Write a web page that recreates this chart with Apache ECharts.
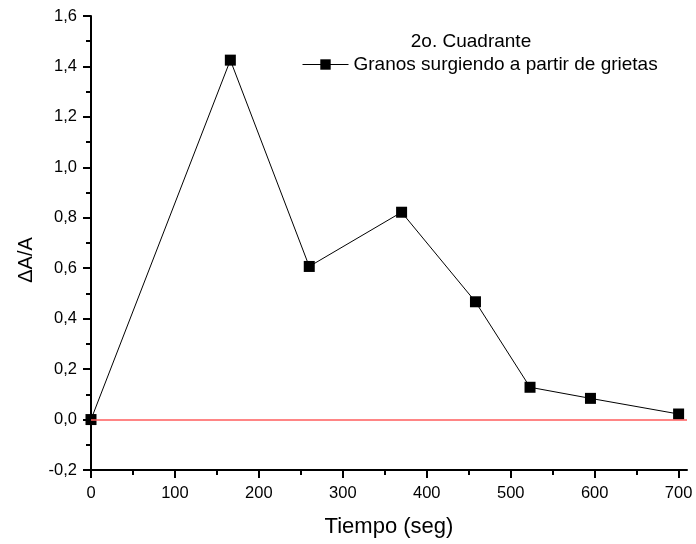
<!DOCTYPE html>
<html>
<head>
<meta charset="utf-8">
<script src="https://cdn.jsdelivr.net/npm/echarts@6/dist/echarts.min.js"></script>
<style>
  html, body { margin: 0; padding: 0; background: #fff; }
  #chart { width: 696px; height: 544px; }
</style>
</head>
<body>
<div id="chart"></div>
<script>
// Time (s) and relative area change for grains emerging from cracks
const tiempo = [0, 166, 260, 370, 458, 523, 595, 700];
const deltaA = [0, 1.425, 0.607, 0.822, 0.467, 0.128, 0.084, 0.022];
const xMajorTicks = [0, 100, 200, 300, 400, 500, 600, 700];
const xMinorTicks = [50, 150, 250, 350, 450, 550, 650];
const baselineY = 0;
const seriesName = 'Granos surgiendo a partir de grietas';
const titleText = '2o. Cuadrante';

const FONT = '"Liberation Sans", Arial, sans-serif';
const RED = '#ff5c5c';
const chart = echarts.init(document.getElementById('chart'), null, { renderer: 'canvas' });

const fmtComma = v => (Math.round(v * 10) / 10).toFixed(1).replace('.', ',');

chart.setOption({
  animation: false,
  backgroundColor: '#fff',
  title: {
    text: titleText,
    left: 466, top: 27,
    textAlign: 'center',
    textStyle: { fontFamily: FONT, fontSize: 19, fontWeight: 'normal', color: '#000' }
  },
  legend: {
    left: 297, top: 50,
    itemWidth: 46, itemHeight: 13, itemGap: 4,
    lineStyle: { width: 1 },
    textStyle: { fontFamily: FONT, fontSize: 19, color: '#000' },
    data: [{ name: seriesName }]
  },
  grid: { left: 91, right: 9, top: 16, bottom: 74, containLabel: false },
  xAxis: [
    {
      type: 'value', min: 0, max: 710, position: 'bottom',
      name: 'Tiempo (seg)', nameLocation: 'middle', nameGap: 46,
      nameTextStyle: { fontFamily: FONT, fontSize: 22, color: '#000' },
      axisLine: { show: true, onZero: false, lineStyle: { color: '#000', width: 2 } },
      axisTick: { show: true, inside: false, length: 8, lineStyle: { color: '#000', width: 2 }, customValues: xMajorTicks },
      axisLabel: { show: true, margin: 15, fontFamily: FONT, fontSize: 16.5, color: '#000', customValues: xMajorTicks },
      splitLine: { show: false }
    },
    {
      type: 'value', min: 0, max: 710, position: 'bottom',
      axisLine: { show: false, onZero: false },
      axisTick: { show: true, inside: false, length: 5, lineStyle: { color: '#000', width: 2 }, customValues: xMinorTicks },
      axisLabel: { show: false },
      splitLine: { show: false }
    }
  ],
  yAxis: {
    type: 'value', min: -0.2, max: 1.6, interval: 0.2,
    name: 'ΔA/A', nameLocation: 'middle', nameGap: 55, nameRotate: 90,
    nameTextStyle: { fontFamily: FONT, fontSize: 20, color: '#000', padding: [0, 34, 0, 0] },
    axisLine: { show: true, onZero: false, lineStyle: { color: '#000', width: 2 } },
    axisTick: { show: true, inside: false, length: 8, lineStyle: { color: '#000', width: 2 } },
    minorTick: { show: true, splitNumber: 2, length: 5, lineStyle: { color: '#000', width: 2 } },
    axisLabel: { margin: 14, fontFamily: FONT, fontSize: 16.5, color: '#000', formatter: fmtComma },
    splitLine: { show: false }
  },
  series: [{
    name: seriesName,
    type: 'line',
    xAxisIndex: 0,
    data: tiempo.map((t, i) => [t, deltaA[i]]),
    symbol: 'rect', symbolSize: 11,
    itemStyle: { color: '#000' },
    lineStyle: { color: '#000', width: 1 },
    markLine: {
      silent: true, symbol: ['none', 'none'],
      label: { show: false },
      itemStyle: { color: RED },
      lineStyle: { color: RED, width: 1.5, type: 'solid', opacity: 1 },
      emphasis: { disabled: true },
      data: [{ yAxis: baselineY, lineStyle: { color: RED, width: 1.5 } }]
    },
    z: 3
  }]
});
</script>
</body>
</html>
